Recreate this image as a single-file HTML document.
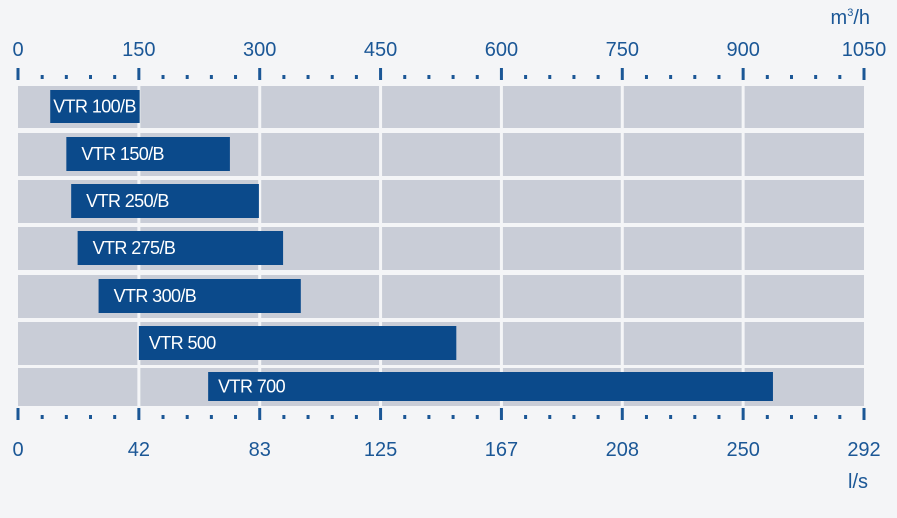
<!DOCTYPE html>
<html><head><meta charset="utf-8"><style>
body{margin:0;background:#f4f5f7;font-family:"Liberation Sans",sans-serif}
</style></head><body>
<svg id="c" width="897" height="513" xmlns="http://www.w3.org/2000/svg"></svg>
<script>
const names=["VTR 100/B","VTR 150/B","VTR 250/B","VTR 275/B","VTR 300/B","VTR 500","VTR 700"];
const startVals=[40,60,66,74,100,150,236];
const endVals=[151,263,299,329,351,544,937];
const topTicks=["0","150","300","450","600","750","900","1050"];
const botTicks=["0","42","83","125","167","208","250","292"];
const svg=document.getElementById('c');
const NS="http://www.w3.org/2000/svg";
const X0=18,X1=864,MAX=1050;
const x=v=>X0+(v/MAX)*(X1-X0);
const rowTop=[86,133,180,227,275,322,368],rowH=[42,43,43,43,43,43,38];
function el(t,a,p){const e=document.createElementNS(NS,t);for(const k in a)e.setAttribute(k,a[k]);(p||svg).appendChild(e);return e;}
names.forEach((n,i)=>{
 const r=el('rect',{x:X0,y:rowTop[i],width:X1-X0,height:rowH[i],fill:'#c9cdd7'});
 
 
});
for(let i=1;i<7;i++){
 const l=el('line',{x1:x(i*150),x2:x(i*150),y1:84,y2:406,stroke:'#f4f5f7','stroke-width':3});
 
 
}
names.forEach((n,i)=>{
 const y=rowTop[i]+4,h=rowH[i]-9;
 const b=el('rect',{x:x(startVals[i]),y:y,width:x(endVals[i])-x(startVals[i]),height:h,fill:'#0b4a8b'});
 
 
 const t=el('text',{x:x(startVals[i])+(i==0?3:i>=5?10:15),y:y+h/2+6,fill:'#fff','font-size':18,'letter-spacing':'-0.6px'});
 t.textContent=n;
 
 
});
function axis(yTick,labels,labelY,name){
 for(let i=0;i<=35;i++){
  const v=i*30,major=i%5==0;
  const tk=el('line',{x1:x(v),x2:x(v),y1:major?yTick-6:yTick+1,y2:major?yTick+6:yTick+5,stroke:'#1b5796','stroke-width':3});
  
  
 }
 labels.forEach((s,i)=>{
  const t=el('text',{x:x(i*150),y:labelY,fill:'#1b5796','font-size':20,'text-anchor':'middle'});
  t.textContent=s;
  
  
 });
}
axis(74,topTicks,56,'top-axis');
axis(414,botTicks,456,'bottom-axis');
const u1=el('text',{x:870,y:24,fill:'#1b5796','font-size':20,'text-anchor':'end'});
u1.innerHTML='m<tspan font-size="11" dy="-8">3</tspan><tspan dy="8">/h</tspan>';


const u2=el('text',{x:868,y:488,fill:'#1b5796','font-size':20,'text-anchor':'end'});
u2.textContent='l/s';


</script>
</body></html>
